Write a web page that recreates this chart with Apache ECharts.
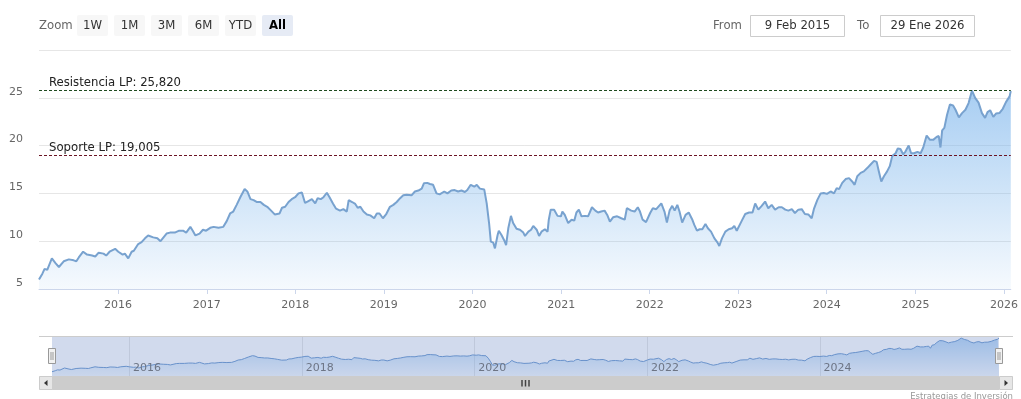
<!DOCTYPE html>
<html>
<head>
<meta charset="utf-8">
<script src="https://cdn.jsdelivr.net/npm/echarts@6/dist/echarts.min.js"></script>
<style>
html,body{margin:0;padding:0;background:#ffffff;}
#chart{width:1021px;height:399px;}
</style>
</head>
<body>
<div id="chart"></div>
<script>
// ---------------- data ----------------
const dates = [
'2015-02-09','2015-02-23','2015-03-04','2015-03-15','2015-03-23','2015-04-03','2015-04-18','2015-05-02','2015-05-22','2015-06-12',
'2015-07-02','2015-07-13','2015-07-23','2015-08-10','2015-08-26','2015-09-16','2015-09-29','2015-10-13','2015-11-02','2015-11-13',
'2015-11-27','2015-12-20','2016-01-02','2016-01-20','2016-01-29','2016-02-12','2016-02-26','2016-03-06','2016-03-24','2016-04-07',
'2016-04-21','2016-05-04','2016-05-25','2016-06-11','2016-06-24','2016-07-02','2016-07-19','2016-08-02','2016-08-22','2016-09-09',
'2016-09-25','2016-10-08','2016-10-25','2016-11-04','2016-11-15','2016-12-02','2016-12-16','2016-12-29','2017-01-15','2017-01-29',
'2017-02-18','2017-03-10','2017-03-24','2017-04-07','2017-04-20','2017-05-04',
'2017-05-20','2017-06-06','2017-06-17','2017-06-30','2017-07-13','2017-07-27','2017-08-10','2017-08-24','2017-09-07','2017-09-21',
'2017-10-08','2017-10-28','2017-11-07','2017-11-20','2017-12-04','2017-12-17','2017-12-31','2018-01-14','2018-01-28','2018-02-10',
'2018-02-24','2018-03-10','2018-03-24','2018-04-03','2018-04-16','2018-04-27','2018-05-11','2018-05-22','2018-06-05','2018-06-18',
'2018-07-04','2018-07-18','2018-08-01','2018-08-09','2018-08-23','2018-09-05','2018-09-15','2018-09-26','2018-10-09','2018-10-23',
'2018-11-06','2018-11-22','2018-12-03','2018-12-14','2018-12-28','2019-01-10','2019-01-26','2019-02-09','2019-02-23','2019-03-09',
'2019-03-22','2019-04-05','2019-04-25','2019-05-09','2019-05-23','2019-06-06','2019-06-15','2019-06-29','2019-07-10',
'2019-07-23','2019-08-06','2019-08-19','2019-09-07','2019-09-20','2019-10-06','2019-10-20','2019-11-03','2019-11-17','2019-12-01',
'2019-12-11','2019-12-25','2020-01-09','2020-01-19','2020-02-01','2020-02-19','2020-02-29','2020-03-10','2020-03-17','2020-03-27',
'2020-04-03','2020-04-14','2020-04-19','2020-04-30','2020-05-11','2020-05-19','2020-05-28','2020-06-08','2020-06-17','2020-07-01',
'2020-07-15','2020-07-29','2020-08-05','2020-08-19','2020-08-30','2020-09-08','2020-09-22','2020-10-02','2020-10-12','2020-10-26',
'2020-11-06','2020-11-11','2020-11-19','2020-12-03','2020-12-17','2020-12-31','2021-01-06','2021-01-16','2021-01-30','2021-02-13',
'2021-02-24','2021-03-05','2021-03-15','2021-03-26','2021-04-09','2021-04-22','2021-05-08','2021-05-22','2021-06-02','2021-06-15',
'2021-06-29','2021-07-10','2021-07-21','2021-08-03','2021-08-20','2021-09-06','2021-09-20',
'2021-09-29','2021-10-17','2021-10-31','2021-11-13','2021-11-22','2021-12-03','2021-12-17','2022-01-03','2022-01-14','2022-01-28',
'2022-02-18','2022-03-03','2022-03-13','2022-03-24','2022-04-04','2022-04-14','2022-04-25','2022-05-04','2022-05-15','2022-05-29',
'2022-06-11','2022-06-25','2022-07-04','2022-07-15','2022-07-26','2022-08-06','2022-08-19','2022-08-29','2022-09-11','2022-09-25',
'2022-10-08','2022-10-15','2022-10-26','2022-11-09','2022-11-23','2022-12-07','2022-12-16','2022-12-26','2023-01-03','2023-01-16',
'2023-01-30','2023-02-15','2023-03-01','2023-03-12','2023-03-25','2023-04-08','2023-04-22','2023-05-05','2023-05-19','2023-06-02',
'2023-06-17','2023-06-30','2023-07-14','2023-07-27','2023-08-10','2023-08-23','2023-09-06','2023-09-20','2023-10-03','2023-10-17',
'2023-10-31','2023-11-09','2023-11-23','2023-11-30',
'2023-12-07','2023-12-20','2024-01-02','2024-01-17','2024-01-31','2024-02-11','2024-02-21','2024-03-05','2024-03-19','2024-04-02',
'2024-04-15','2024-04-25','2024-05-06','2024-05-20','2024-06-02','2024-06-16','2024-06-29','2024-07-14','2024-07-25','2024-08-03',
'2024-08-13','2024-08-24','2024-09-06','2024-09-17','2024-09-27','2024-10-11','2024-10-20','2024-10-31','2024-11-11','2024-11-20',
'2024-12-04','2024-12-14','2024-12-26','2025-01-09','2025-01-22','2025-02-02','2025-02-16','2025-03-02','2025-03-15','2025-03-29',
'2025-04-07','2025-04-14','2025-04-21','2025-04-30','2025-05-11','2025-05-23','2025-06-05','2025-06-15','2025-06-29','2025-07-12',
'2025-07-26','2025-08-08','2025-08-22','2025-09-04','2025-09-18','2025-10-02','2025-10-15','2025-10-25','2025-11-05','2025-11-18',
'2025-11-29','2025-12-13','2025-12-27','2026-01-09','2026-01-24','2026-01-29'
];
const values = [
6.0,6.6,7.1,7.0,6.9,8.2,7.7,7.3,7.9,8.1,
8.0,7.9,8.3,8.9,8.6,8.5,8.4,8.8,8.7,8.5,
8.9,9.2,8.9,8.6,8.7,8.2,8.9,9.0,9.7,9.9,
10.3,10.6,10.4,10.3,10.0,9.9,10.8,10.9,10.9,11.1,
11.1,10.9,11.5,11.1,10.6,10.8,11.2,11.1,11.4,11.5,
11.4,11.5,12.1,12.9,13.1,13.8,
14.65,15.45,15.2,14.4,14.3,14.1,14.1,13.8,13.6,13.25,
12.8,12.9,13.5,13.6,14.1,14.4,14.6,15.0,15.1,14.0,
14.2,14.4,13.95,14.5,14.4,14.6,15.07,14.6,13.95,13.4,
13.2,13.35,13.1,14.3,14.1,13.9,13.5,13.6,13.1,12.8,
12.7,12.4,12.9,12.9,12.4,12.8,13.6,13.8,14.1,14.5,
14.8,14.86,14.8,15.2,15.3,15.5,16.05,16.1,15.98,
15.9,15.0,14.9,15.2,15.0,15.3,15.35,15.2,15.3,15.15,
15.35,15.9,15.7,15.9,15.5,15.4,13.95,11.85,9.95,9.85,
9.25,10.65,11.1,10.65,10.1,9.6,11.35,12.65,11.9,11.3,
11.2,10.9,10.55,11.0,11.2,11.6,11.2,10.55,11.0,11.25,
11.0,12.25,13.3,13.3,12.65,12.6,13.1,12.75,11.9,12.25,
12.15,13.0,13.3,12.6,12.65,12.6,13.55,13.2,13.0,13.1,
13.2,12.75,12.05,12.5,12.6,12.4,12.25,
13.45,13.2,13.1,13.55,13.1,12.25,12.0,12.95,13.45,13.35,
13.95,13.1,11.95,13.2,13.7,13.2,13.8,13.1,11.95,12.75,
13.0,12.3,11.7,11.1,11.25,11.25,11.8,11.35,11.0,10.3,
9.85,9.5,10.3,11.0,11.25,11.35,11.6,11.1,10.9,12.15,
12.85,13.0,13.0,13.95,13.3,13.7,14.15,13.45,13.8,13.3,
13.55,13.55,13.3,13.2,13.35,12.95,13.3,13.35,12.85,12.8,
12.4,13.35,14.3,14.5,
15.0,15.05,14.95,15.2,15.0,15.55,15.45,16.1,16.5,16.6,
16.25,15.9,16.8,17.15,17.3,17.65,18.0,18.4,18.3,17.3,
16.25,16.8,17.3,17.85,18.9,19.2,19.7,19.65,19.1,19.35,
20.0,19.2,19.2,19.35,19.2,19.8,21.05,20.6,20.6,20.9,
21.0,19.8,21.6,21.85,23.2,24.3,24.2,23.75,22.95,23.4,
23.75,24.45,25.75,25.0,24.5,23.4,22.9,23.5,23.7,23.0,
23.35,23.4,23.85,24.55,25.15,25.7
];
const levelValues = [25.82, 19.005];
const levelLabels = ['Resistencia LP: 25,820', 'Soporte LP: 19,005'];
const yTickValues = [5, 10, 15, 20, 25];
const navTickYears = [2016, 2018, 2020, 2022, 2024];
const zoomButtons = ['1W', '1M', '3M', '6M', 'YTD', 'All'];
const selectedButton = 'All';
const fromText = '9 Feb 2015';
const toText = '29 Ene 2026';
const creditText = 'Estrategias de Inversi\u00f3n';

// ---------------- styling ----------------
const FONT = 'DejaVu Sans';
const YEAR_MS = 365 * 24 * 3600 * 1000;
const levelColors = ['#1f4a1f', '#6b1424'];
const NAV_MIN = 3.5, NAV_MAX = 27;

const seriesData = dates.map((d, i) => [d, values[i]]);

function areaGradient(a0, a1) {
  return new echarts.graphic.LinearGradient(0, 0, 0, 1, [
    {offset: 0, color: 'rgba(124,181,236,' + a0 + ')'},
    {offset: 1, color: 'rgba(124,181,236,' + a1 + ')'}
  ]);
}

const graphics = [];
// range selector
graphics.push({type: 'text', x: 39, y: 25.5, z: 10, style: {text: 'Zoom', fill: '#666666', fontSize: 11.7, fontFamily: FONT, verticalAlign: 'middle', align: 'left'}});
zoomButtons.forEach((b, i) => {
  const bx = 77 + i * 37;
  const sel = b === selectedButton;
  graphics.push({type: 'rect', z: 10, shape: {x: bx, y: 15, width: 31, height: 21, r: 2}, style: {fill: sel ? '#e6ebf5' : '#f7f7f7'}});
  graphics.push({type: 'text', z: 11, x: bx + 15.5, y: 25.5, style: {text: b, fill: sel ? '#000000' : '#333333', fontSize: 11.7, fontWeight: sel ? 'bold' : 'normal', fontFamily: FONT, align: 'center', verticalAlign: 'middle'}});
});
graphics.push({type: 'text', x: 713, y: 25.5, z: 10, style: {text: 'From', fill: '#666666', fontSize: 11.7, fontFamily: FONT, verticalAlign: 'middle', align: 'left'}});
graphics.push({type: 'rect', z: 10, shape: {x: 750.5, y: 15.5, width: 94, height: 21}, style: {fill: '#ffffff', stroke: '#cccccc', lineWidth: 1}});
graphics.push({type: 'text', x: 797.5, y: 26, z: 11, style: {text: fromText, fill: '#333333', fontSize: 11.7, fontFamily: FONT, verticalAlign: 'middle', align: 'center'}});
graphics.push({type: 'text', x: 857, y: 25.5, z: 10, style: {text: 'To', fill: '#666666', fontSize: 11.7, fontFamily: FONT, verticalAlign: 'middle', align: 'left'}});
graphics.push({type: 'rect', z: 10, shape: {x: 880.5, y: 15.5, width: 94, height: 21}, style: {fill: '#ffffff', stroke: '#cccccc', lineWidth: 1}});
graphics.push({type: 'text', x: 927.5, y: 26, z: 11, style: {text: toText, fill: '#333333', fontSize: 11.7, fontFamily: FONT, verticalAlign: 'middle', align: 'center'}});

// navigator chrome
graphics.push({type: 'line', z: 3, shape: {x1: 39, y1: 336.5, x2: 1013, y2: 336.5}, style: {stroke: '#cccccc', lineWidth: 1}});
graphics.push({type: 'rect', z: 3, shape: {x: 52, y: 337, width: 947, height: 39}, style: {fill: 'rgba(102,133,194,0.3)'}});
[52, 999].forEach(hx => {
  graphics.push({type: 'rect', z: 12, shape: {x: hx - 3.5, y: 348.5, width: 7, height: 15}, style: {fill: '#f2f2f2', stroke: '#999999', lineWidth: 1}});
  graphics.push({type: 'line', z: 13, shape: {x1: hx - 1, y1: 352, x2: hx - 1, y2: 360}, style: {stroke: '#999999', lineWidth: 1}});
  graphics.push({type: 'line', z: 13, shape: {x1: hx + 1, y1: 352, x2: hx + 1, y2: 360}, style: {stroke: '#999999', lineWidth: 1}});
});
// scrollbar
graphics.push({type: 'rect', z: 10, shape: {x: 39, y: 376, width: 974, height: 14}, style: {fill: '#f2f2f2'}});
graphics.push({type: 'rect', z: 10, shape: {x: 52, y: 376, width: 947, height: 14}, style: {fill: '#cccccc'}});
graphics.push({type: 'rect', z: 11, shape: {x: 39.5, y: 376.5, width: 13, height: 13}, style: {fill: '#e6e6e6', stroke: '#cccccc', lineWidth: 1}});
graphics.push({type: 'rect', z: 11, shape: {x: 999.5, y: 376.5, width: 13, height: 13}, style: {fill: '#e6e6e6', stroke: '#cccccc', lineWidth: 1}});
graphics.push({type: 'polygon', z: 12, shape: {points: [[47.5, 380], [47.5, 386], [44, 383]]}, style: {fill: '#333333'}});
graphics.push({type: 'polygon', z: 12, shape: {points: [[1004.5, 380], [1004.5, 386], [1008, 383]]}, style: {fill: '#333333'}});
[522, 525.5, 529].forEach(gx => {
  graphics.push({type: 'line', z: 12, shape: {x1: gx, y1: 380, x2: gx, y2: 386.5}, style: {stroke: '#444444', lineWidth: 1.5}});
});
// credit
graphics.push({type: 'text', x: 1013, y: 401, z: 10, style: {text: creditText, fill: '#999999', fontSize: 8.5, fontFamily: FONT, align: 'right', verticalAlign: 'bottom'}});

const chart = echarts.init(document.getElementById('chart'), null, {renderer: 'canvas'});
chart.setOption({
  animation: false,
  backgroundColor: '#ffffff',
  textStyle: {fontFamily: FONT},
  grid: [
    {left: 39, right: 8, top: 50, height: 239},
    {left: 52, right: 22, top: 336, height: 40}
  ],
  xAxis: [
    {
      type: 'time', gridIndex: 0, min: dates[0], max: dates[dates.length - 1],
      splitNumber: 11, minInterval: YEAR_MS, maxInterval: YEAR_MS,
      axisLine: {lineStyle: {color: '#ccd6eb'}},
      axisTick: {length: 5, lineStyle: {color: '#ccd6eb'}},
      axisLabel: {formatter: '{yyyy}', color: '#666666', fontSize: 11, fontFamily: FONT, margin: 11, showMinLabel: false, showMaxLabel: false},
      splitLine: {show: false}
    },
    {type: 'time', gridIndex: 1, min: dates[0], max: dates[dates.length - 1], show: false}
  ],
  yAxis: [
    {
      type: 'value', gridIndex: 0, min: 5, max: 30, interval: 5,
      axisLine: {show: false}, axisTick: {show: false},
      axisLabel: {color: '#666666', fontSize: 11, fontFamily: FONT, margin: 16, verticalAlign: 'bottom', lineHeight: 12,
        formatter: v => (yTickValues.indexOf(v) >= 0 ? String(v) : '')},
      splitLine: {lineStyle: {color: '#e6e6e6'}}
    },
    {type: 'value', gridIndex: 1, min: NAV_MIN, max: NAV_MAX, show: false}
  ],
  series: [
    {
      type: 'line', xAxisIndex: 0, yAxisIndex: 0, data: seriesData,
      showSymbol: false, symbol: 'none', silent: true,
      lineStyle: {color: '#78a2cf', width: 2},
      itemStyle: {color: '#78a2cf'},
      areaStyle: {color: areaGradient(0.95, 0.1)},
      z: 2,
      markLine: {
        symbol: 'none', silent: true, animation: false,
        label: {position: 'insideStartTop', distance: [10, 1], color: '#222222', fontSize: 11.7, fontFamily: FONT},
        data: levelValues.map((v, i) => ({
          yAxis: v,
          label: {formatter: levelLabels[i]},
          lineStyle: {color: levelColors[i], type: [3, 2], width: 1}
        }))
      }
    },
    {
      type: 'custom', xAxisIndex: 1, yAxisIndex: 1, silent: true, z: 1,
      data: navTickYears.map(y => [y + '-01-01', NAV_MIN]),
      encode: {x: 0, y: 1},
      renderItem: function (params, api) {
        const top = api.coord([api.value(0), NAV_MAX]);
        const bot = api.coord([api.value(0), NAV_MIN]);
        const x = Math.round(top[0]) + 0.5;
        return {type: 'line', shape: {x1: x, y1: top[1], x2: x, y2: bot[1]}, style: {stroke: '#e6e6e6', lineWidth: 1}};
      }
    },
    {
      type: 'line', xAxisIndex: 1, yAxisIndex: 1, data: seriesData,
      showSymbol: false, symbol: 'none', silent: true, z: 2,
      lineStyle: {color: '#6a98cf', width: 1},
      itemStyle: {color: '#6a98cf'},
      areaStyle: {color: areaGradient(0.8, 0.1)}
    },
    {
      type: 'custom', xAxisIndex: 1, yAxisIndex: 1, silent: true, z: 5,
      data: navTickYears.map(y => [y + '-01-01', NAV_MIN]),
      encode: {x: 0, y: 1},
      renderItem: function (params, api) {
        const bot = api.coord([api.value(0), NAV_MIN]);
        return {type: 'text', x: bot[0] + 4, y: bot[1] - 2,
          style: {text: String(navTickYears[params.dataIndex]), fill: '#6d7585', fontSize: 11, fontFamily: FONT, align: 'left', verticalAlign: 'bottom'}};
      }
    }
  ],
  graphic: {elements: graphics}
});
</script>
</body>
</html>
